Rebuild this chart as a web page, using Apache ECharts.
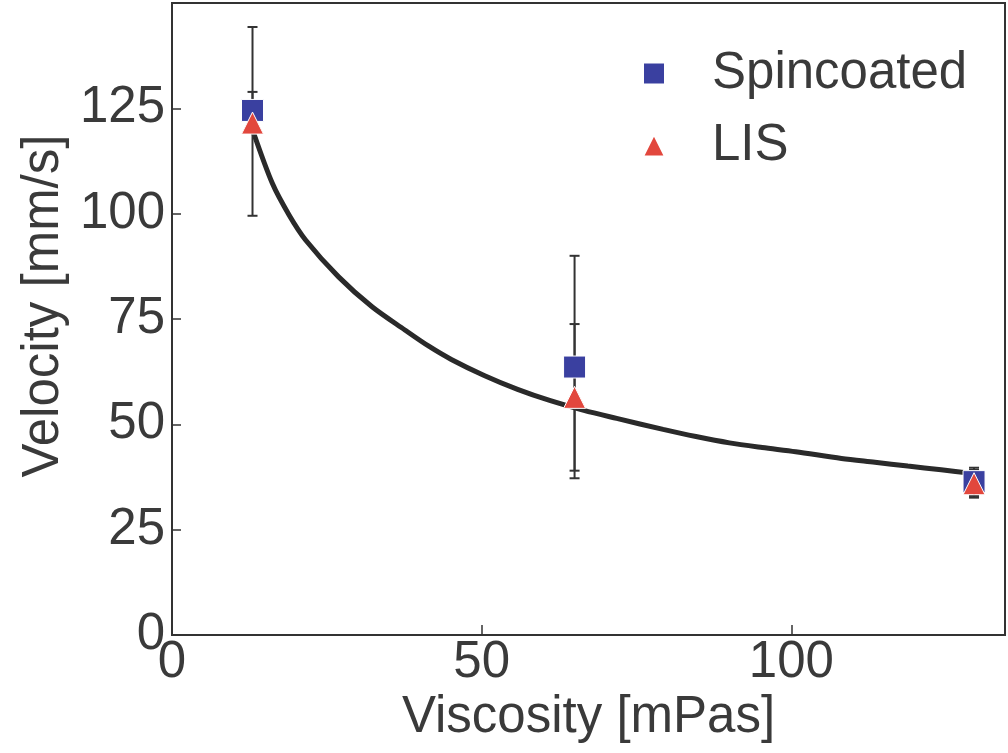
<!DOCTYPE html>
<html>
<head>
<meta charset="utf-8">
<script src="https://cdn.jsdelivr.net/npm/echarts@6/dist/echarts.min.js"></script>
<style>
html,body{margin:0;padding:0;background:#fff;}
#chart{width:1008px;height:753px;}
</style>
</head>
<body>
<div id="chart"></div>
<script>
// Measured points
const viscosity = [13.0, 65.0, 129.5];
const spincoated = [124.5, 63.6, 36.4];
const spincoatedLow = [99.5, 37.2, 32.6];
const spincoatedHigh = [144.3, 90.0, 39.7];
const lis = [121.5, 56.4, 35.9];
const lisLow = [121.5, 39.0, 33.0];
const lisHigh = [128.9, 73.8, 39.2];

// Fit curve
const fitX = [13.1, 16.2, 18.9, 21.6, 26.9, 32.3, 37.6, 41.4, 45.1, 50.4, 55.8, 61.1, 66.5, 71.8, 79.3, 84.6, 90.0, 95.3, 100.7, 108.1, 113.5, 118.8, 124.2, 129.5];
const fitY = [119.5, 107.2, 99.7, 93.7, 85.0, 77.9, 72.4, 68.6, 65.4, 61.6, 58.3, 55.6, 53.3, 51.4, 48.8, 47.1, 45.6, 44.5, 43.5, 41.9, 41.0, 40.1, 39.2, 38.3];

const xTicks = [0, 50, 100];
const yTicks = [0, 25, 50, 75, 100, 125];

const FONT = 'Liberation Sans, Arial, sans-serif';
const TXT = '#3a3a3a';

const chart = echarts.init(document.getElementById('chart'), null, {renderer: 'canvas'});

function errSeries(name, lows, highs) {
  return {
    name: name + ' err',
    type: 'custom',
    z: 3,
    silent: true,
    data: viscosity.map((x, i) => [x, lows[i], highs[i]]),
    renderItem: function (params, api) {
      const x = api.value(0);
      const lo = api.coord([x, api.value(1)]);
      const hi = api.coord([x, api.value(2)]);
      const w = 5;
      const st = {stroke: '#333', lineWidth: 2};
      return {
        type: 'group',
        children: [
          {type: 'line', shape: {x1: lo[0], y1: lo[1], x2: hi[0], y2: hi[1]}, style: st},
          {type: 'line', shape: {x1: lo[0] - w, y1: lo[1], x2: lo[0] + w, y2: lo[1]}, style: st},
          {type: 'line', shape: {x1: hi[0] - w, y1: hi[1], x2: hi[0] + w, y2: hi[1]}, style: st}
        ]
      };
    }
  };
}

const option = {
  backgroundColor: '#fff',
  animation: false,
  grid: {left: 172, right: -3, top: 3, bottom: 118, show: true, borderColor: '#333', borderWidth: 2, containLabel: false},
  legend: {
    orient: 'vertical',
    left: 637,
    top: 40,
    itemWidth: 22,
    itemHeight: 22,
    itemGap: 15,
    data: [
      {name: 'Spincoated', icon: 'rect'},
      {name: 'LIS', icon: 'triangle'}
    ],
    textStyle: {fontFamily: FONT, fontSize: 51, color: TXT, lineHeight: 57, padding: [0, 0, 0, 42]}
  },
  xAxis: {
    type: 'value',
    min: 0, max: 134.5, interval: 50,
    name: 'Viscosity [mPas]',
    nameLocation: 'middle',
    nameGap: 50,
    nameTextStyle: {fontFamily: FONT, fontSize: 51, color: TXT},
    axisLine: {show: true, lineStyle: {color: '#333', width: 2}},
    axisTick: {show: true, inside: true, length: 10, lineStyle: {color: '#333', width: 1.5}},
    splitLine: {show: false},
    axisLabel: {
      fontFamily: FONT, fontSize: 51, color: TXT, margin: 2,
      formatter: v => xTicks.indexOf(v) >= 0 ? String(v) : ''
    }
  },
  yAxis: {
    type: 'value',
    min: 0, max: 150, interval: 25,
    name: 'Velocity [mm/s]',
    nameLocation: 'middle',
    nameGap: 100,
    nameRotate: 90,
    nameTextStyle: {fontFamily: FONT, fontSize: 51, color: TXT, padding: [0, 0, 0, 26]},
    axisLine: {show: true, lineStyle: {color: '#333', width: 2}},
    axisTick: {show: true, inside: true, length: 9, lineStyle: {color: '#333', width: 1.5}},
    splitLine: {show: false},
    axisLabel: {
      fontFamily: FONT, fontSize: 51, color: TXT, margin: 7,
      formatter: v => yTicks.indexOf(v) >= 0 ? String(v) : ''
    }
  },
  series: [
    {
      name: 'fit',
      type: 'line',
      z: 2,
      silent: true,
      showSymbol: false,
      smooth: 0.3,
      data: fitX.map((x, i) => [x, fitY[i]]),
      lineStyle: {color: '#2a2a2a', width: 5}
    },
    errSeries('Spincoated', spincoatedLow, spincoatedHigh),
    errSeries('LIS', lisLow, lisHigh),
    {
      name: 'Spincoated',
      type: 'scatter',
      z: 5,
      symbol: 'rect',
      symbolSize: 22,
      data: viscosity.map((x, i) => [x, spincoated[i]]),
      itemStyle: {color: '#3a40a0', opacity: 1, borderColor: '#fff', borderWidth: 1}
    },
    {
      name: 'LIS',
      type: 'scatter',
      z: 6,
      symbol: 'triangle',
      symbolSize: 22,
      data: viscosity.map((x, i) => [x, lis[i]]),
      itemStyle: {color: '#e2473d', opacity: 1, borderColor: '#fff', borderWidth: 1}
    }
  ]
};
chart.setOption(option);
</script>
</body>
</html>
